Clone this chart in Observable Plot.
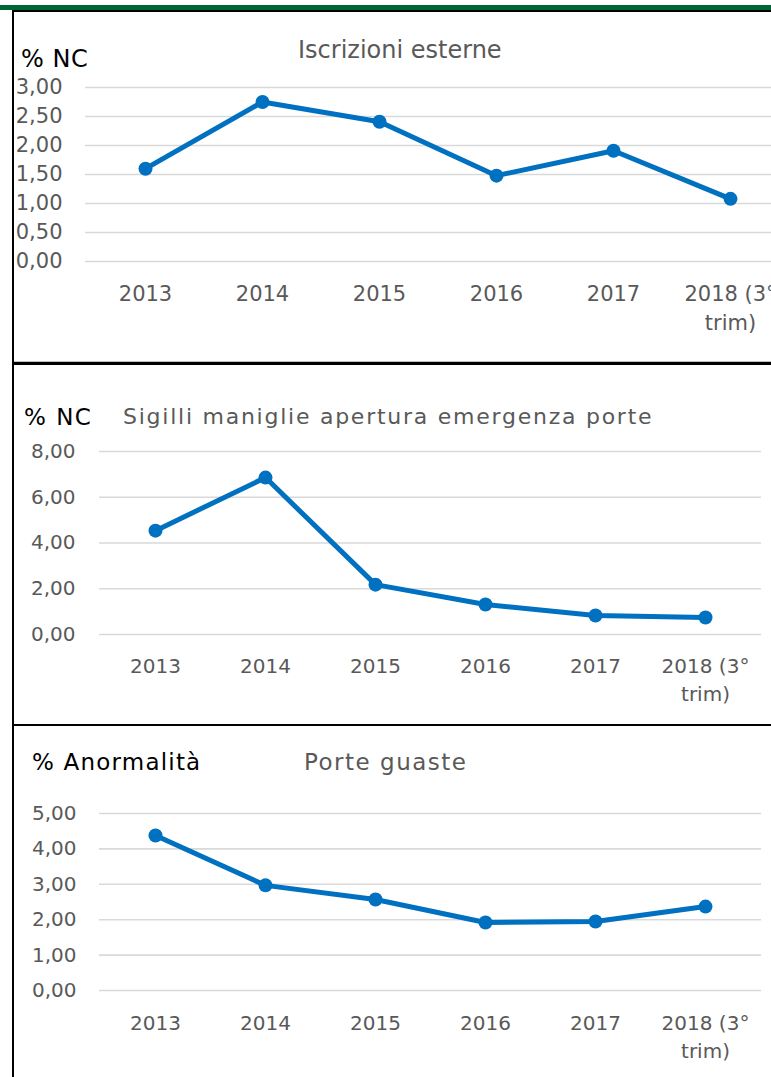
<!DOCTYPE html>
<html>
<head>
<meta charset="utf-8">
<script src="https://cdn.jsdelivr.net/npm/d3@7"></script>
<script src="https://cdn.jsdelivr.net/npm/@observablehq/plot@0.6"></script>
<style>
  html, body { margin: 0; padding: 0; background: #fff; }
  #root { position: relative; width: 771px; height: 1077px; overflow: hidden; background: #fff; }
  .abs { position: absolute; }
  .lbl { position: absolute; white-space: nowrap; line-height: 1; }
  svg { display: block; }
</style>
</head>
<body>
<div id="root"></div>
<script>
// ---- data ----
const years = ["2013", "2014", "2015", "2016", "2017", "2018 (3°\ntrim)"];
const iscrizioniEsterne = [1.60, 2.75, 2.41, 1.48, 1.91, 1.08];
const sigilliManiglie = [4.54, 6.86, 2.18, 1.31, 0.83, 0.74];
const porteGuaste = [4.38, 2.97, 2.57, 1.92, 1.95, 2.37];
const ticks1 = [0, 0.5, 1, 1.5, 2, 2.5, 3];
const ticks2 = [0, 2, 4, 6, 8];
const ticks3 = [0, 1, 2, 3, 4, 5];
const titles = ["Iscrizioni esterne", "Sigilli maniglie apertura emergenza porte", "Porte guaste"];
const units = ["% NC", "% NC", "% Anormalità"];

const BLUE = "#0070C0";
const GRID = "#d9d9d9";
const GRAY = "#595959";
const FONT = '"DejaVu Sans", sans-serif';
const fmt = d => d.toFixed(2).replace(".", ",");

const root = document.getElementById("root");
function box(style) {
  const d = document.createElement("div");
  d.className = "abs";
  Object.assign(d.style, style);
  root.appendChild(d);
  return d;
}
function label(text, style) {
  const d = document.createElement("div");
  d.className = "lbl";
  d.textContent = text;
  Object.assign(d.style, {fontFamily: FONT}, style);
  root.appendChild(d);
  return d;
}

function panel(values, o) {
  const data = years.map((y, i) => ({year: y, value: values[i]}));
  const chart = Plot.plot({
    width: 771,
    height: o.height,
    marginTop: o.marginTop,
    marginBottom: o.marginBottom,
    marginLeft: o.marginLeft,
    marginRight: o.marginRight,
    style: {fontFamily: FONT, fontSize: o.fontSize + "px", color: GRAY, background: "transparent"},
    x: o.xRange ? {type: "point", domain: years, range: o.xRange, padding: 0} : {type: "point", domain: years, padding: 0.5},
    y: {domain: [0, o.max]},
    marks: [
      Plot.ruleY(o.ticks, {stroke: GRID, strokeWidth: 1.6}),
      Plot.axisY({ticks: o.ticks, tickSize: 0, tickPadding: o.yPad, tickFormat: fmt, label: null, fill: GRAY}),
      Plot.axisX({tickSize: 0, tickPadding: o.xPad, label: null, fill: GRAY, lineHeight: 1.42}),
      Plot.line(data, {x: "year", y: "value", stroke: BLUE, strokeWidth: 5, strokeLinejoin: "round"}),
      Plot.dot(data, {x: "year", y: "value", r: 7, fill: BLUE, stroke: "none"})
    ]
  });
  chart.style.position = "absolute";
  chart.style.left = "0px";
  chart.style.top = o.top + "px";
  root.appendChild(chart);
}

panel(iscrizioniEsterne, {top: 12, height: 349, marginTop: 75, marginBottom: 100, marginLeft: 85, marginRight: 0,
  xRange: [144, 731], max: 3, ticks: ticks1, fontSize: 21, yPad: 23, xPad: 18});
panel(sigilliManiglie, {top: 366, height: 358, marginTop: 85, marginBottom: 90, marginLeft: 99, marginRight: 10,
  max: 8, ticks: ticks2, fontSize: 20, yPad: 24, xPad: 18});
panel(porteGuaste, {top: 727, height: 350, marginTop: 86, marginBottom: 87, marginLeft: 99, marginRight: 10,
  max: 5, ticks: ticks3, fontSize: 20, yPad: 23, xPad: 19});

// borders
box({left: "0px", top: "5px", width: "771px", height: "5px", background: "#006633"});
box({left: "12px", top: "10px", width: "759px", height: "2px", background: "#000"});
box({left: "12px", top: "10px", width: "2px", height: "1067px", background: "#000"});
box({left: "14px", top: "361px", width: "757px", height: "1px", background: "#bfbfbf"});
box({left: "12px", top: "362px", width: "759px", height: "3px", background: "#000"});
box({left: "12px", top: "724px", width: "759px", height: "2px", background: "#000"});

// titles & unit labels
label(titles[0], {left: "298px", top: "38px", fontSize: "24px", color: GRAY});
label(units[0], {left: "21px", top: "47px", fontSize: "24px", color: "#000", letterSpacing: "0.5px"});
label(titles[1], {left: "123px", top: "406px", fontSize: "22px", color: GRAY, letterSpacing: "1.75px"});
label(units[1], {left: "24px", top: "406px", fontSize: "23px", color: "#000", letterSpacing: "1.5px"});
label(titles[2], {left: "304px", top: "751px", fontSize: "23px", color: GRAY, letterSpacing: "1.5px"});
label(units[2], {left: "32px", top: "751px", fontSize: "23px", color: "#000", letterSpacing: "1.2px"});
</script>
</body>
</html>
